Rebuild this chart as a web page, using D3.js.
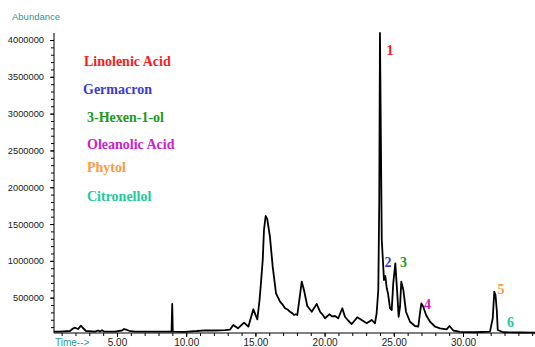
<!DOCTYPE html>
<html>
<head>
<meta charset="utf-8">
<script src="https://cdn.jsdelivr.net/npm/d3@7"></script>
<style>
  body { margin: 0; background: #fff; }
  svg { display: block; }
  .axis text { font-family: "Liberation Sans", Arial, sans-serif; fill: #222; }
  .axis path, .axis line { stroke: #000; }
  .serif { font-family: "Liberation Serif", "Times New Roman", serif; font-weight: bold; }
</style>
</head>
<body>
<div id="chart"></div>
<script>
/**
 * DATA
 * */
// retention time (min) and abundance
const times = [
  0.45, 0.88, 1.60, 1.82, 1.97, 2.18, 2.40, 2.54, 2.76, 3.41, 3.63, 3.77, 3.92, 4.06,
  4.86, 5.36, 5.51, 5.65, 5.87, 6.30, 7.38, 8.94, 8.99, 9.03, 9.91, 10.78, 11.36, 12.08,
  12.80, 13.17, 13.40, 13.74, 14.18, 14.49, 14.85, 15.14, 15.30, 15.38, 15.53, 15.62,
  15.74, 15.86, 16.05, 16.25, 16.49, 16.64, 16.78, 16.95, 17.14, 17.32, 17.50, 17.66,
  17.79, 17.92, 18.03, 18.35, 18.51, 18.75, 19.07, 19.43, 19.67, 19.85, 20.03, 20.34,
  20.55, 20.75, 20.99, 21.28, 21.47, 21.70, 21.96, 22.36, 22.68, 23.04, 23.40, 23.64,
  23.76, 23.88, 23.95, 24.00, 24.13, 24.22, 24.29, 24.39, 24.49, 24.58, 24.73, 24.85,
  24.96, 25.11, 25.25, 25.35, 25.45, 25.54, 25.69, 25.88, 26.17, 26.53, 26.77, 26.89,
  26.99, 27.13, 27.33, 27.62, 27.98, 28.34, 28.82, 29.02, 29.30, 29.78, 30.87, 31.95,
  32.15, 32.26, 32.35, 32.44, 32.51, 32.91, 34.12, 35.20
];
const abundance = [
  38000, 40000, 47000, 81000, 92000, 74000, 119000, 88000, 47000, 40000, 54000, 40000, 57000, 40000,
  39000, 54000, 74000, 67000, 50000, 40000, 38000, 38000, 414000, 40000, 36000, 47000, 57000, 54000,
  58000, 67000, 129000, 84000, 160000, 106000, 342000, 206000, 468000, 649000, 1012000, 1419000,
  1609000, 1564000, 1328000, 921000, 559000, 500000, 445000, 410000, 356000, 340000, 309000, 290000,
  265000, 275000, 265000, 717000, 604000, 387000, 309000, 414000, 309000, 270000, 220000, 274000,
  245000, 251000, 220000, 356000, 241000, 190000, 142000, 233000, 197000, 152000, 197000, 152000,
  288000, 604000, 1827000, 4095000, 1287000, 984000, 740000, 794000, 627000, 559000, 356000, 332000,
  695000, 967000, 559000, 241000, 377000, 717000, 604000, 309000, 173000, 115000, 106000, 288000,
  423000, 377000, 265000, 173000, 106000, 84000, 70000, 115000, 54000, 34000, 30000, 38000,
  220000, 581000, 536000, 332000, 61000, 30000, 27000, 24000
];

const compounds = ["Linolenic Acid", "Germacron", "3-Hexen-1-ol", "Oleanolic Acid", "Phytol", "Citronellol"];
const compoundColors = ["#ff1a1a", "#3a3ad8", "#1a9a1a", "#cc22cc", "#ff9a3a", "#22c99a"];

// peak numbers: label, time, abundance where the number sits
const peakNums = ["1", "2", "3", "4", "5", "6"];
const peakTimes = [24.73, 24.58, 25.70, 27.43, 32.75, 33.43];
const peakVals = [3860000, 984000, 984000, 414000, 618000, 169000];

const xTickLabels = [5, 10, 15, 20, 25, 30];
const yTickLabels = [500000, 1000000, 1500000, 2000000, 2500000, 3000000, 3500000, 4000000];

/**
 * CONSTANTS
 * */
const width = 535,
  height = 347,
  margin = { top: 40, bottom: 14, left: 54, right: 0 };

const data = times.map((t, i) => ({ t: t, v: abundance[i] }));

const svg = d3
  .select("#chart")
  .append("svg")
  .attr("width", width)
  .attr("height", height);

// SCALES
const xScale = d3.scaleLinear().domain([0, 25]).range([47.8, 47.8 + 346]);
const yScale = d3.scaleLinear().domain([20000, 4000000]).range([333, 40]);

const x0 = xScale.invert(margin.left);
const x1 = xScale.invert(width);

// AXES
// minor y ticks every 100000
svg
  .append("g")
  .attr("class", "axis")
  .attr("transform", `translate(${margin.left},0)`)
  .call(
    d3.axisLeft(yScale)
      .tickValues(d3.range(100000, 4000001, 100000))
      .tickSize(3)
      .tickFormat("")
  )
  .call(g => g.select(".domain").remove());

svg
  .append("g")
  .attr("class", "axis")
  .attr("transform", `translate(${margin.left},0)`)
  .call(
    d3.axisLeft(yScale)
      .tickValues(yTickLabels)
      .tickSize(4)
      .tickPadding(6)
      .tickFormat(d3.format("d"))
  )
  .call(g => g.select(".domain").attr("d", `M0,${yScale(20000)}V33`))
  .call(g => g.selectAll("text").attr("font-size", 9.3));

// x axis, minor ticks every minute
svg
  .append("g")
  .attr("class", "axis")
  .attr("transform", `translate(0,${yScale(20000)})`)
  .call(
    d3.axisBottom(xScale)
      .tickValues(d3.range(1, 36, 1))
      .tickSize(3)
      .tickFormat("")
  )
  .call(g => g.select(".domain").remove());

svg
  .append("g")
  .attr("class", "axis")
  .attr("transform", `translate(0,${yScale(20000)})`)
  .call(
    d3.axisBottom(xScale)
      .tickValues(xTickLabels)
      .tickSize(4)
      .tickPadding(2)
      .tickFormat(d3.format(".2f"))
  )
  .call(g => g.select(".domain").attr("d", `M${margin.left},0H${width}`))
  .call(g => g.selectAll("text").attr("font-size", 10));

// axis titles
svg
  .append("text")
  .attr("x", 12)
  .attr("y", 20)
  .attr("font-family", "Liberation Sans, Arial, sans-serif")
  .attr("font-size", 9.5)
  .attr("fill", "#2a9a9a")
  .text("Abundance");

svg
  .append("text")
  .attr("x", 55)
  .attr("y", 346)
  .attr("font-family", "Liberation Sans, Arial, sans-serif")
  .attr("font-size", 10)
  .attr("fill", "#2a9a9a")
  .text("Time-->");

// TRACE
const line = d3
  .line()
  .x(d => xScale(d.t))
  .y(d => Math.max(yScale(d.v), 33));

svg
  .append("path")
  .datum(data.filter(d => d.t >= x0 && d.t <= x1))
  .attr("fill", "none")
  .attr("stroke", "#000")
  .attr("stroke-width", 1.8)
  .attr("stroke-linejoin", "round")
  .attr("d", line);

// LEGEND
const legendY = [61, 89, 117, 144, 167, 196];
const legendX = [84, 83, 87, 87, 87, 87];
svg
  .selectAll(".legend")
  .data(compounds)
  .join("text")
  .attr("class", "legend serif")
  .attr("x", (d, i) => legendX[i])
  .attr("y", (d, i) => legendY[i])
  .attr("dy", "0.35em")
  .attr("font-size", 14)
  .attr("fill", (d, i) => compoundColors[i])
  .text(d => d);

// PEAK NUMBERS
svg
  .selectAll(".peak")
  .data(peakNums)
  .join("text")
  .attr("class", "peak serif")
  .attr("x", (d, i) => xScale(peakTimes[i]))
  .attr("y", (d, i) => yScale(peakVals[i]))
  .attr("dy", "0.35em")
  .attr("text-anchor", "middle")
  .attr("font-size", 14)
  .attr("fill", (d, i) => compoundColors[i])
  .text(d => d);
</script>
</body>
</html>
